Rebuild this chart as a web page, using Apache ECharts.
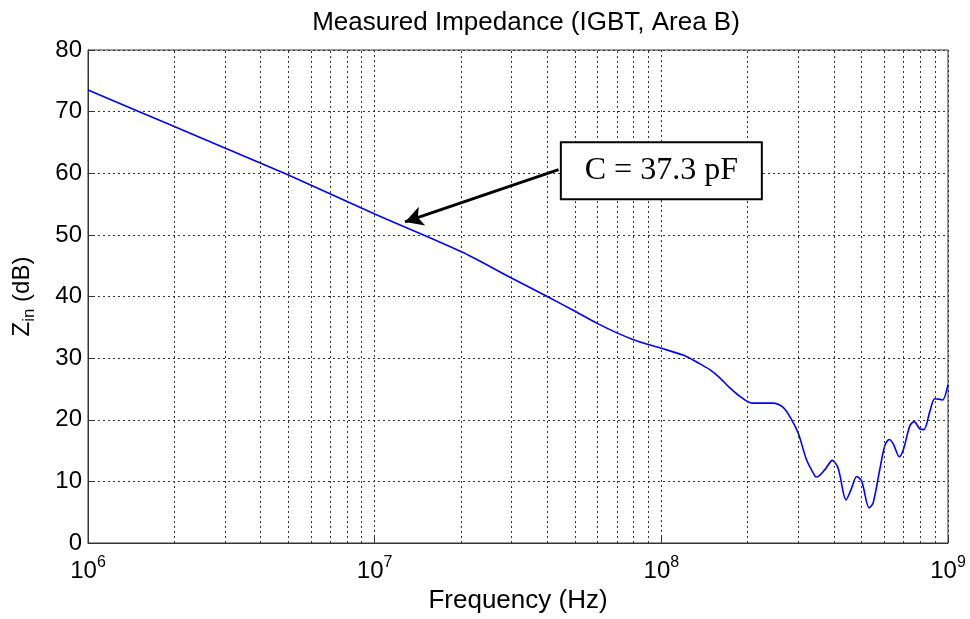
<!DOCTYPE html>
<html>
<head>
<meta charset="utf-8">
<script src="https://cdn.jsdelivr.net/npm/echarts@6/dist/echarts.min.js"></script>
<style>
  html, body { margin: 0; padding: 0; background: #fff; }
  #chart { width: 970px; height: 619px; }
</style>
</head>
<body>
<div id="chart"></div>
<script>
// frequency in MHz, impedance in dB
const freqMHz = [1, 2, 3, 5, 10, 20, 30, 40, 50, 60, 70, 80, 90, 100,
  119, 129, 136, 148, 160, 173, 188, 207, 245, 266, 284, 301, 321, 344, 348, 372, 395, 414,
  441, 461, 480, 500, 531, 548, 578, 603, 624, 644, 676, 698, 736, 762, 798, 824, 865, 899,
  938, 957, 1000];
const zinDb = [73.5, 67.6, 64.1, 59.7, 53.4, 47.3, 43.0, 40.0, 37.6,
  35.6, 34.1, 33.0, 32.2, 31.6, 30.5, 29.7, 29.1, 28.1, 26.8, 25.2, 23.8, 22.7, 22.7, 22.0,
  20.1, 17.7, 13.5, 10.8, 10.7, 11.9, 13.4, 12.1, 7.0, 8.9, 10.8, 10.0, 5.7, 6.5, 11.9, 15.9,
  16.8, 16.1, 14.0, 15.1, 19.0, 19.7, 18.5, 18.4, 21.4, 23.4, 23.3, 23.2, 25.7];
const yTicks = [0, 10, 20, 30, 40, 50, 60, 70, 80];
const decades = [1e6, 1e7, 1e8, 1e9];

// annotation: arrow from the box to the curve, box with capacitance
const arrowFrom = [43.8e6, 60.6];
const arrowTo = [12.76e6, 52.1];
const boxAt = [100e6, 60.4];
const boxText = 'C = 37.3 pF';

const points = freqMHz.map((f, i) => [f * 1e6, zinDb[i]]);

// minor vertical grid lines at 2..9 x each decade
const minorLines = [];
decades.slice(0, -1).forEach((d) => {
  for (let k = 2; k <= 9; k++) minorLines.push({ xAxis: d * k });
});

const dotted = { color: '#333', width: 1, type: [2, 3] };
const sans = 'Liberation Sans, Arial';

const chart = echarts.init(document.getElementById('chart'));
chart.setOption({
  animation: false,
  title: {
    text: 'Measured Impedance (IGBT, Area B)',
    left: 521,
    textAlign: 'center',
    top: 5,
    textStyle: { fontFamily: sans, fontSize: 26, fontWeight: 'normal', color: '#000' }
  },
  grid: { left: 88, right: 22, top: 50, bottom: 68, show: true, borderColor: '#333', borderWidth: 1 },
  xAxis: {
    type: 'log',
    logBase: 10,
    min: 1e6,
    max: 1e9,
    name: 'Frequency (Hz)',
    nameLocation: 'middle',
    nameGap: 45,
    nameTextStyle: { fontFamily: sans, fontSize: 26, color: '#000' },
    axisLine: { lineStyle: { color: '#333' } },
    axisTick: { inside: true, length: 6, lineStyle: { color: '#333' } },
    axisLabel: {
      margin: 12,
      fontFamily: sans,
      fontSize: 24,
      color: '#000',
      formatter: (v) => '10{sup|' + Math.round(Math.log10(v)) + '}',
      rich: { sup: { fontSize: 16, color: '#000', fontFamily: sans, padding: [0, 0, 16, 0] } }
    },
    splitLine: { show: true, lineStyle: dotted }
  },
  yAxis: {
    type: 'value',
    min: yTicks[0],
    max: yTicks[yTicks.length - 1],
    interval: 10,
    name: 'Z{sub|in} (dB)',
    nameLocation: 'middle',
    nameGap: 50,
    nameRotate: 90,
    nameTextStyle: {
      fontFamily: sans, fontSize: 24, color: '#000',
      rich: { sub: { fontSize: 17, color: '#000', fontFamily: sans, padding: [14, 0, 0, 0] } }
    },
    axisLine: { show: true, lineStyle: { color: '#333' } },
    axisTick: { show: true, inside: true, length: 6, lineStyle: { color: '#333' } },
    axisLabel: { margin: 6, fontFamily: sans, fontSize: 24, color: '#000' },
    splitLine: { show: true, lineStyle: dotted }
  },
  series: [
    {
      name: 'grid',
      type: 'line',
      data: [],
      silent: true,
      z: 1,
      markLine: {
        silent: true,
        symbol: 'none',
        label: { show: false },
        lineStyle: dotted,
        data: minorLines
      }
    },
    {
      name: 'Zin',
      type: 'line',
      data: points,
      showSymbol: false,
      smooth: 0.3,
      z: 3,
      lineStyle: { color: '#0000ff', width: 1.6 },
      itemStyle: { color: '#0000ff' },
      markLine: {
        silent: true,
        label: { show: false },
        symbolSize: [15, 18],
        lineStyle: { color: '#000', width: 3, type: 'solid' },
        data: [[
          { coord: arrowFrom, symbol: 'none' },
          { coord: arrowTo, symbol: 'arrow' }
        ]]
      },
      markPoint: {
        silent: true,
        symbol: 'rect',
        symbolSize: 1,
        itemStyle: { color: 'rgba(0,0,0,0)' },
        label: {
          show: true,
          position: 'inside',
          formatter: boxText,
          fontFamily: 'Liberation Serif, Times New Roman',
          fontSize: 32,
          color: '#000',
          backgroundColor: '#fff',
          borderColor: '#000',
          borderWidth: 2,
          width: 199,
          height: 55,
          lineHeight: 55,
          align: 'center',
          verticalAlign: 'middle'
        },
        data: [{ coord: boxAt }]
      }
    }
  ]
});
</script>
</body>
</html>
